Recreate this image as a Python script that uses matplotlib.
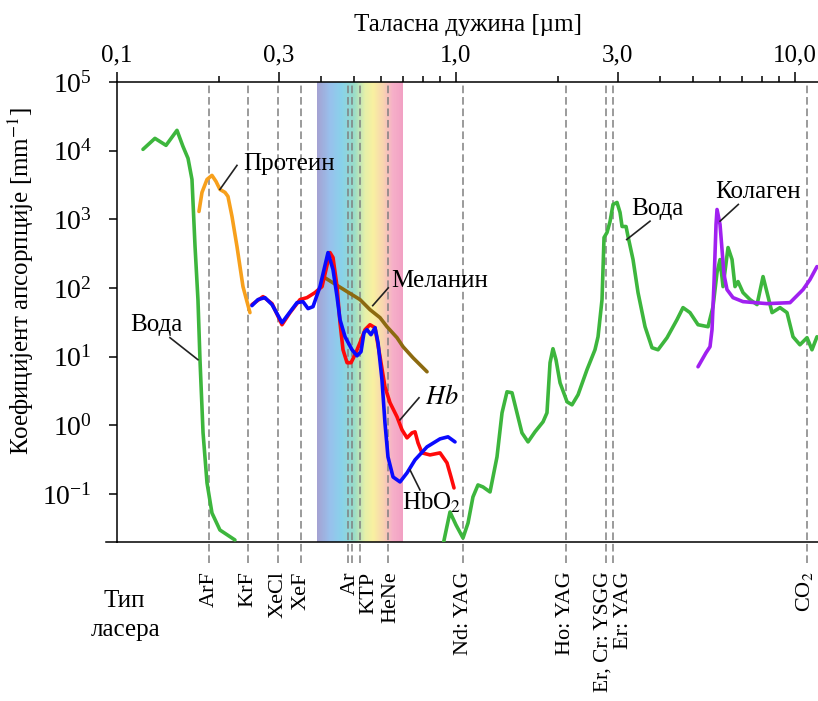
import numpy as np
import matplotlib
matplotlib.use('Agg')
import matplotlib.pyplot as plt
from matplotlib.colors import LinearSegmentedColormap, Normalize
from matplotlib.ticker import FixedLocator, FixedFormatter, LogLocator, NullFormatter, NullLocator
from matplotlib.transforms import blended_transform_factory

plt.rcParams['font.family'] = ['Liberation Serif', 'DejaVu Serif']
plt.rcParams['mathtext.fontset'] = 'stix'

# --- data (wavelength in um, absorption in 1/mm) ---
water_uv_wl = [0.1193, 0.1294, 0.1395, 0.1503, 0.1565, 0.1620, 0.1664, 0.1699, 0.1733,
               0.1757, 0.1794, 0.1843, 0.1906, 0.2012, 0.2228]
water_uv_abs = [10450, 15110, 11950, 19780, 11553, 7720, 3812, 402, 67.8,
                9.03, 0.777, 0.145, 0.0529, 0.0299, 0.0214]

water_ir_wl = [0.9156, 0.9600, 1.000, 1.0486, 1.085, 1.122, 1.161, 1.201, 1.260, 1.321,
               1.367, 1.414, 1.463, 1.513, 1.565, 1.631, 1.710, 1.806, 1.855, 1.894,
               1.932, 1.972, 2.027, 2.126, 2.199, 2.291, 2.434, 2.570, 2.624, 2.696,
               2.733, 2.789, 2.847, 2.905, 2.985, 3.047, 3.089, 3.174, 3.217, 3.328,
               3.443, 3.611, 3.786, 3.944, 4.193, 4.486, 4.673, 4.900, 5.175, 5.539,
               5.730, 5.888, 6.009, 6.133, 6.345, 6.520, 6.653, 6.791, 7.025, 7.368,
               7.727, 8.048, 8.327, 8.556, 9.032, 9.471, 9.865, 10.34, 10.85, 11.22,
               11.61]
water_ir_abs = [0.0181, 0.0547, 0.0354, 0.0229, 0.0378, 0.0906, 0.1355, 0.1267, 0.1071, 0.347,
                1.522, 3.08, 2.98, 1.522, 0.777, 0.574, 0.804, 1.125, 1.522, 8.16,
                13.06, 9.03, 4.17, 2.20, 1.99, 2.79, 6.45, 12.6, 19.5, 67.8,
                543, 643, 930, 1647, 1761, 1259, 786, 786, 562, 259.7,
                85.7, 27.3, 13.5, 12.6, 18.9, 34.6, 51.8, 43.8, 29.2, 27.3,
                53.5, 167.8, 259.7, 104.8, 388.6, 259.7, 104.8, 124, 85.7, 67.8,
                57.3, 146.7, 74.9, 43.8, 51.8, 43.8, 19.5, 14.9, 18.9, 12.6,
                19.5]

protein_wl = [0.1745, 0.1781, 0.1843, 0.1906, 0.1959, 0.2012, 0.2083, 0.2125, 0.2184,
              0.2259, 0.2353, 0.2467]
protein_abs = [1302, 2465, 3812, 4363, 3565, 2726, 2465, 2155, 1100,
               402, 104.8, 43.8]

hb_wl = [0.2501, 0.2696, 0.2866, 0.3067, 0.3238, 0.3466, 0.3635, 0.3838, 0.4025, 0.4249,
         0.4337, 0.4457, 0.4548, 0.4642, 0.4771, 0.4901, 0.5036, 0.5210, 0.5390, 0.5575,
         0.5769, 0.5968, 0.6172, 0.6388, 0.6698, 0.6930, 0.7170, 0.7418, 0.7570, 0.7726,
         0.7937, 0.8381, 0.8971, 0.9407, 0.9667, 0.9865]
hb_abs = [57.3, 74.9, 59.2, 29.2, 43.8, 67.8, 72.4, 85.7, 104.8, 328,
          277.6, 104.8, 31.3, 12.6, 8.16, 8.16, 10.7, 16.0, 24.7, 29.2,
          26.4, 9.98, 3.64, 2.13, 1.331, 0.860, 0.657, 0.777, 0.804, 0.555,
          0.397, 0.371, 0.397, 0.284, 0.177, 0.1226]

hbo2_wl = [0.2501, 0.2605, 0.2732, 0.2866, 0.3067, 0.3194, 0.3396, 0.3537, 0.3661, 0.3786,
           0.3970, 0.4192, 0.4337, 0.4457, 0.4548, 0.4706, 0.4935, 0.5105, 0.5245, 0.5353,
           0.5463, 0.5613, 0.5769, 0.5888, 0.6048, 0.6172, 0.6300, 0.6520, 0.6837, 0.7170,
           0.7570, 0.8213, 0.8971, 0.9471, 0.9932]
hbo2_abs = [55.4, 67.8, 72.4, 57.3, 31.3, 40.9, 61.2, 63.3, 50.1, 53.5,
            104.8, 328, 185.5, 74.9, 34.6, 19.5, 12.6, 10.3, 11.8, 22.4,
            24.7, 20.9, 26.4, 16.0, 4.61, 1.088, 0.347, 0.177, 0.150, 0.203,
            0.314, 0.486, 0.635, 0.680, 0.574]

melanin_wl = [0.4052, 0.4771, 0.5210, 0.5575, 0.5968, 0.6259, 0.6698, 0.6978, 0.7466, 0.8213]
melanin_abs = [146.7, 88.6, 67.8, 48.4, 37.0, 27.3, 18.9, 13.97, 9.65, 6.03]

collagen_wl = [5.175, 5.465, 5.614, 5.691, 5.769, 5.848, 5.888, 6.009, 6.091, 6.174,
               6.301, 6.563, 7.025, 8.270, 9.667, 10.56, 11.07, 11.61]
collagen_abs = [7.13, 11.42, 13.97, 24.7, 119.9, 841, 1392, 841, 363, 156.9,
                94.8, 72.4, 63.3, 59.2, 61.2, 94.8, 132.6, 205]

# visible band
spec_wl = [0.389, 0.425, 0.46, 0.50, 0.54, 0.57, 0.61, 0.65, 0.698]
spec_col = ['#a4a2d2', '#98c0ec', '#88d2ea', '#98dcc8', '#e6f0a8', '#f8f0a0',
            '#f8d4b0', '#f6b0c8', '#f2a0c4']

# laser lines and labels
laser_wl = [0.1868, 0.2434, 0.2985, 0.3491, 0.4812, 0.4944, 0.5210, 0.6289,
            1.051, 2.107, 2.764, 2.899, 10.83]
laser_names = ['ArF', 'KrF', 'XeCl', 'XeF', 'Ar', 'KTP', 'HeNe', 'Nd: YAG',
               'Ho: YAG', 'Er, Cr: YSGG', 'Er: YAG', 'CO$_2$']
laser_label_wl = [0.1868, 0.2434, 0.2985, 0.3491, 0.4868, 0.5539, 0.6430, 1.051,
                  2.107, 2.719, 3.116, 10.70]

top_ticks = [0.1, 0.3, 1.0, 3.0, 10.0]
top_tick_labels = ['0,1', '0,3', '1,0', '3,0', '10,0']

FS = 18

fig = plt.figure(figsize=(8.18, 7.01), dpi=100)
ax = fig.add_axes([117 / 818, 1 - 542 / 701, 701 / 818, 460 / 701])
ax.set_xscale('log')
ax.set_yscale('log')
ax.set_xlim(0.1, 11.69)
ax.set_ylim(0.02, 1e5)

# rainbow band for visible light
lo, hi = np.log10(spec_wl[0]), np.log10(spec_wl[-1])
pos = [(np.log10(w) - lo) / (hi - lo) for w in spec_wl]
cmap = LinearSegmentedColormap.from_list('spec', list(zip(pos, spec_col)))
edges = np.logspace(lo, hi, 161)
mids = np.log10(np.sqrt(edges[:-1] * edges[1:]))
ax.pcolormesh(edges, [0.02, 1e5], mids[np.newaxis, :], cmap=cmap,
              norm=Normalize(lo, hi), shading='flat', zorder=0)

blend = blended_transform_factory(ax.transData, ax.transAxes)
for wl in laser_wl:
    ax.plot([wl, wl], [-0.045, 1], transform=blend, color='#808080', lw=1.1,
            ls=(0, (5, 2.5)), clip_on=False, zorder=1)
for wl, name in zip(laser_label_wl, laser_names):
    fs = 15.5 if len(name) > 10 else 16
    ax.text(wl, -0.064, name, transform=blend, rotation=90, ha='center', va='top',
            fontsize=fs)

lw = 2.6
style = dict(lw=lw, solid_joinstyle='round', solid_capstyle='round')
ax.plot(water_uv_wl, water_uv_abs, color='#3db63d', zorder=3, **style)
ax.plot(water_ir_wl, water_ir_abs, color='#3db63d', zorder=3, **style)
ax.plot(protein_wl, protein_abs, color='#f7a01c', zorder=3, **style)
ax.plot(melanin_wl, melanin_abs, color='#8c6a10', zorder=3, **style)
ax.plot(hb_wl, hb_abs, color='#ff0a0a', zorder=4, **style)
ax.plot(hbo2_wl, hbo2_abs, color='#0a0aff', zorder=5, **style)
ax.plot(collagen_wl, collagen_abs, color='#a020f0', zorder=4, **style)

# callouts
pointers = [
    ([0.2012, 0.2259], [2726, 6104]),
    ([0.1433, 0.1733], [18.9, 9.03]),
    ([0.568, 0.6312], [55.4, 100.3]),
    ([0.6837, 0.7778], [1.203, 2.52]),
    ([0.7318, 0.7829], [0.224, 0.1146]),
    ([3.188, 3.735], [508, 940]),
    ([6.009, 6.804], [940, 1647]),
]
for xs, ys in pointers:
    ax.plot(xs, ys, color='#222222', lw=1.2, zorder=6)

ax.text(0.2349, 6310, 'Протеин', fontsize=FS, ha='left', va='center', zorder=7)
ax.text(0.1555, 29.2, 'Вода', fontsize=FS, ha='right', va='center', zorder=7)
ax.text(0.6461, 125.3, 'Меланин', fontsize=FS, ha='left', va='center', zorder=7)
ax.text(0.8101, 2.60, '$Hb$', fontsize=FS + 1, ha='left', va='center', zorder=7)
ax.text(0.693, 0.074, 'HbO$_2$', fontsize=FS, ha='left', va='center', zorder=7)
ax.text(3.298, 1392, 'Вода', fontsize=FS, ha='left', va='center', zorder=7)
ax.text(5.808, 2489, 'Колаген', fontsize=FS, ha='left', va='center', zorder=7)

# axes styling
for side in ['top', 'bottom', 'left']:
    ax.spines[side].set_linewidth(1.1)
ax.spines['right'].set_visible(False)
ax.plot([-11 / 701, 0], [0, 0], transform=ax.transAxes, color='black', lw=1.1, clip_on=False)

ax.xaxis.set_major_locator(FixedLocator(top_ticks))
ax.xaxis.set_major_formatter(FixedFormatter(top_tick_labels))
ax.xaxis.set_minor_locator(LogLocator(base=10, subs=np.arange(2, 10)))
ax.xaxis.set_minor_formatter(NullFormatter())
ax.tick_params(axis='x', which='both', bottom=False, top=True, labelbottom=False,
               labeltop=True, direction='out', width=1.1, labelsize=FS)
ax.tick_params(axis='x', which='major', length=7, pad=4)
ax.tick_params(axis='x', which='minor', length=4)
ax.yaxis.set_major_locator(LogLocator(base=10, numticks=10))
ax.yaxis.set_minor_locator(NullLocator())
ax.tick_params(axis='y', which='major', length=6, width=1.1, labelsize=FS + 2, pad=12)

ax.set_xlabel('Таласна дужина [µm]', fontsize=FS, labelpad=10)
ax.xaxis.set_label_position('top')
fig.text(21 / 818, 1 - 281 / 701, 'Коефицијент апсорпције [mm$^{-1}$]', rotation=90,
         ha='center', va='center', fontsize=FS)

fig.text(124 / 818, 1 - 601 / 701, 'Тип', ha='center', va='center', fontsize=FS)
fig.text(126 / 818, 1 - 630 / 701, 'ласера', ha='center', va='center', fontsize=FS)

fig.savefig('out.png', dpi=100)
